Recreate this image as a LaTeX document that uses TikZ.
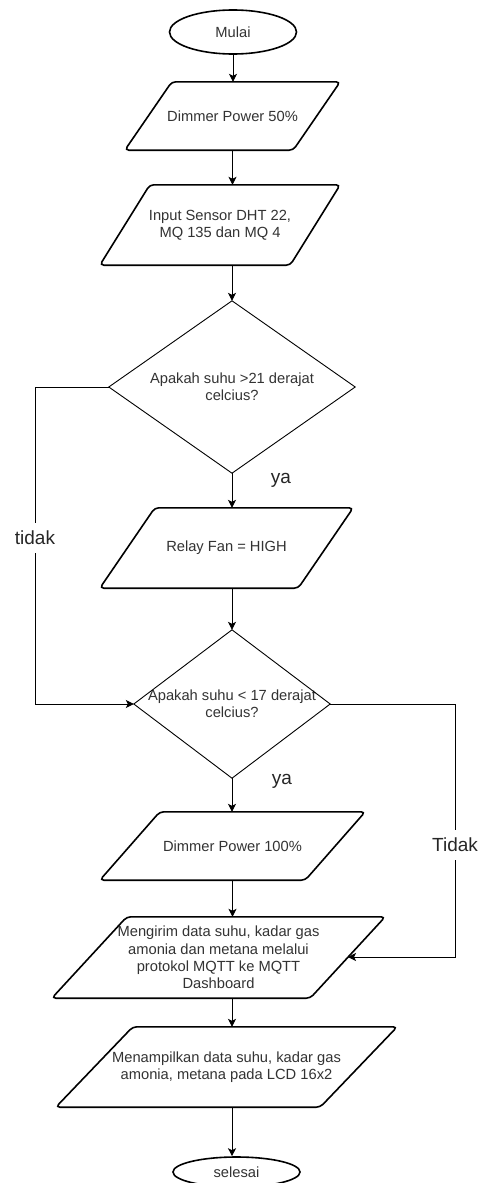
\documentclass[tikz,border=0pt]{standalone}
\usepackage{fontspec}
\setmainfont{Liberation Sans}
\usetikzlibrary{arrows.meta,shapes.geometric,calc}

% parallelogram drawn inside the bounding rectangle of a node, #2 = slant
\newcommand\parallelbox[2]{%
  \draw[outline] (#1.south west) -- ([xshift=-#2pt]#1.south east) --
    (#1.north east) -- ([xshift=#2pt]#1.north west) -- cycle;}
% diamond drawn through the side anchors of a node
\newcommand\decisionbox[1]{%
  \draw[dline] (#1.north) -- (#1.east) -- (#1.south) -- (#1.west) -- cycle;}

\begin{document}
\begin{tikzpicture}[x=1pt,y=-1pt,
  txt/.style={font=\fontsize{14.7}{17.3}\selectfont, text=black!80, align=center},
  box/.style={txt, rectangle, draw=none, inner sep=0pt},
  term/.style={txt, ellipse, draw, line width=1.6pt, inner sep=0pt},
  outline/.style={draw, line width=1.6pt, rounded corners=4pt},
  dline/.style={draw, line width=0.9pt},
  arr/.style={draw, line width=0.9pt, -{Stealth[length=8pt,width=8pt,inset=2pt]}},
  lbl/.style={font=\fontsize{19}{22}\selectfont, text=black!85, inner sep=1pt},
  gap/.style={lbl, fill=white, inner xsep=2pt, inner ysep=8pt},
]
\fill[white] (0,0) rectangle (480,1183);
\useasboundingbox (0,0) rectangle (480,1183);

% terminals
\node[term, minimum width=127pt, minimum height=44pt] (start) at (233,32) {Mulai};
\node[term, minimum width=127pt, minimum height=30pt] (stop) at (236.5,1172) {selesai};

% process / io boxes
\node[box, minimum width=215pt, minimum height=68pt] (dim50) at (232.5,116) {Dimmer Power 50\%};
\node[box, minimum width=240pt, minimum height=80pt] (sensor) at (220,225) {Input Sensor DHT 22,\\MQ 135 dan MQ 4};
\node[box, minimum width=253pt, minimum height=80pt] (relay) at (226.5,548) {Relay Fan = HIGH};
\node[box, minimum width=265pt, minimum height=68pt] (dim100) at (232.5,846) {Dimmer Power 100\%};
\node[box, minimum width=333pt, minimum height=81pt] (send) at (218.5,957.5)
  {Mengirim data suhu, kadar gas\\amonia dan metana melalui\\protokol MQTT ke MQTT\\Dashboard};
\node[box, minimum width=341pt, minimum height=80pt] (show) at (226.5,1067)
  {Menampilkan data suhu, kadar gas\\amonia, metana pada LCD 16x2};

\parallelbox{dim50}{47}
\parallelbox{sensor}{50}
\parallelbox{relay}{55}
\parallelbox{dim100}{60}
\parallelbox{send}{75}
\parallelbox{show}{77}

% decisions
\node[box, minimum width=246pt, minimum height=172pt] (hot) at (232,387)
  {Apakah suhu >21 derajat\\celcius?};
\node[box, minimum width=196pt, minimum height=148pt] (cold) at (232,704)
  {Apakah suhu < 17 derajat\\celcius?};
\decisionbox{hot}
\decisionbox{cold}

% branch labels
\node[lbl] (ya1) at (281,480) {ya};
\node[lbl] (ya2) at (282,781) {ya};

% side routes
\coordinate (leftx) at (35,0);
\coordinate (rightx) at (455,0);
\coordinate (sendin) at (348,957);

% main flow
\draw[arr] (start.south) -- (start.south |- dim50.north);
\draw[arr] (dim50.south) -- (dim50.south |- sensor.north);
\draw[arr] (hot.north |- sensor.south) -- (hot.north);
\draw[arr] (hot.south) -- (hot.south |- relay.north);
\draw[arr] (cold.north |- relay.south) -- (cold.north);
\draw[arr] (cold.south) -- (cold.south |- dim100.north);
\draw[arr] (dim100.south) -- (dim100.south |- send.north);
\draw[arr] (cold.south |- send.south) -- (cold.south |- show.north);
\draw[arr] (cold.south |- show.south) -- (cold.south |- stop.north);

% "no" branches
\draw[arr] (hot.west) -- (hot.west -| leftx)
  -- node[gap, pos=0.475] (no1) {tidak} (cold.west -| leftx) -- (cold.west);
\draw[arr] (cold.east) -- (cold.east -| rightx)
  -- node[gap, pos=0.557] (no2) {Tidak} (sendin -| rightx) -- (sendin);
\end{tikzpicture}
\end{document}
